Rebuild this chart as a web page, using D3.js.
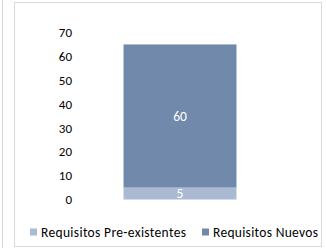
<!DOCTYPE html>
<html><head><meta charset="utf-8">
<script src="https://cdn.jsdelivr.net/npm/d3@7"></script>
<style>body{margin:0;background:#fff}svg{display:block}</style>
</head><body>
<script>
const categories = ["Requisitos"];
const seriesNames = ["Requisitos Pre-existentes", "Requisitos Nuevos"];
const preExistentes = [5];
const nuevos = [60];
const yTicks = [0, 10, 20, 30, 40, 50, 60, 70];
const colors = ["#aabad3", "#7189aa"];

const W = 326, H = 248;
const svg = d3.select("body").append("svg").attr("width", W).attr("height", H);
const font = "Carlito, Calibri, Lato, 'Open Sans', sans-serif";

svg.append("line").attr("x1", 2.5).attr("x2", 2.5).attr("y1", 0).attr("y2", H).attr("stroke", "#d9d9d9");
svg.append("rect").attr("x", 14.5).attr("y", 2.5).attr("width", 307).attr("height", 244)
  .attr("fill", "#fff").attr("stroke", "#d9d9d9");

const y = d3.scaleLinear().domain([0, 70]).range([199.5, 32.5]);
const x = d3.scaleBand().domain(categories).range([84, 276]).paddingInner(0.4).paddingOuter(0.21);

const yAxis = d3.axisLeft(y).tickValues(yTicks).tickSize(0).tickPadding(0);
const ga = svg.append("g").attr("transform", "translate(72,0)").call(yAxis);
ga.select(".domain").remove();
ga.selectAll("text").attr("font-family", font).attr("font-size", 13).attr("fill", "#000");

const stack = d3.stack().keys([0, 1]).value((d, k) => k === 0 ? preExistentes[d] : nuevos[d]);
const series = stack(categories.map((c, i) => i));

series.forEach((s, k) => {
  s.forEach((d, i) => {
    const bx = x(categories[i]);
    svg.append("rect").attr("x", bx).attr("width", x.bandwidth())
      .attr("y", y(d[1])).attr("height", y(d[0]) - y(d[1])).attr("fill", colors[k]);
    svg.append("text").attr("x", bx + x.bandwidth() / 2).attr("y", (y(d[0]) + y(d[1])) / 2)
      .attr("dy", "0.35em").attr("text-anchor", "middle").attr("fill", "#fff")
      .attr("font-family", font).attr("font-size", 13.5)
      .text(k === 0 ? preExistentes[i] : nuevos[i]);
  });
});

const legendX = [30, 202];
const legendW = [145, 105];
seriesNames.forEach((n, k) => {
  const g = svg.append("g").attr("transform", `translate(${legendX[k]},232)`);
  g.append("rect").attr("x", 0).attr("y", -3.5).attr("width", 7).attr("height", 7).attr("fill", colors[k]);
  g.append("text").attr("x", 11).attr("dy", "0.35em").attr("font-family", font).attr("font-size", 13.5)
    .attr("fill", "#000").attr("textLength", legendW[k]).attr("lengthAdjust", "spacing").text(n);
});
</script>
</body></html>
